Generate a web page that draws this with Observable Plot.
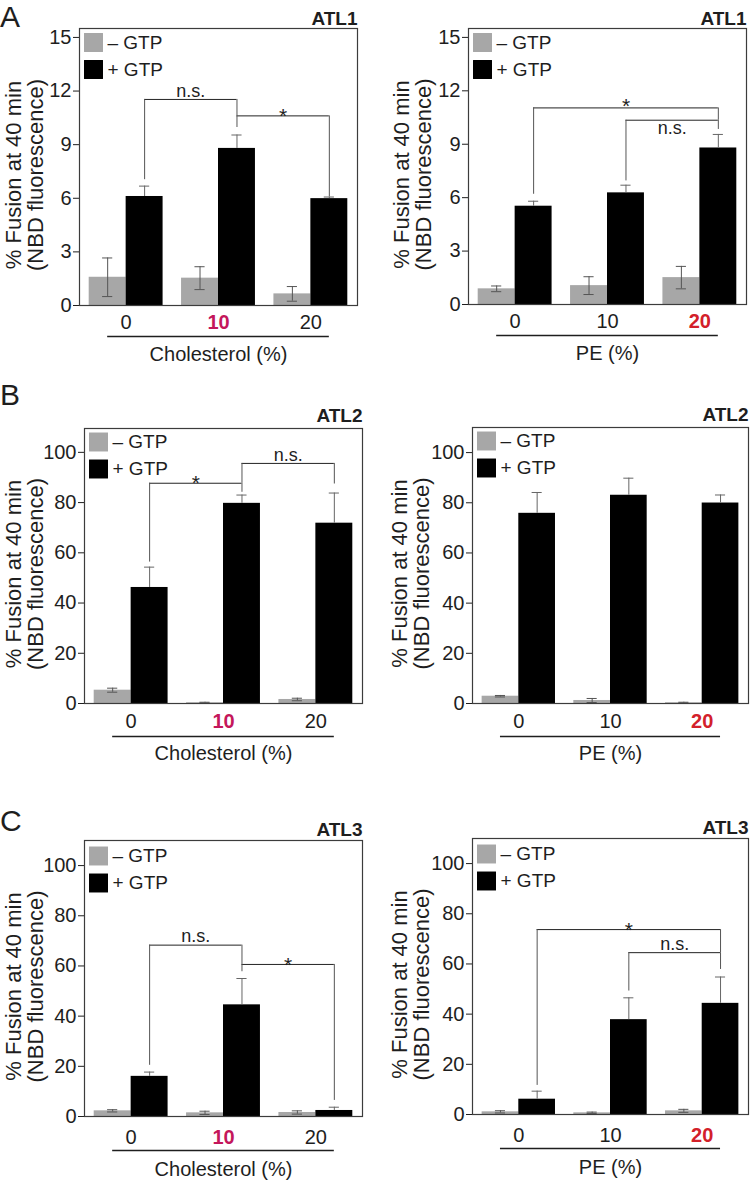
<!DOCTYPE html>
<html>
<head>
<meta charset="utf-8">
<script src="https://cdn.jsdelivr.net/npm/d3@7"></script>
<script src="https://cdn.jsdelivr.net/npm/@observablehq/plot@0.6"></script>
<style>
  body { margin: 0; background: #fff; }
  #root { position: relative; width: 750px; height: 1181px; overflow: hidden; background: #fff;
          font-family: "Liberation Sans", Arial, sans-serif; color: #1e1e1e; }
  .letter { position: absolute; font-size: 30px; line-height: normal; color: #1e1e1e; }
</style>
</head>
<body>
<div id="root"></div>
<script>
// ---------- DATA ----------
const groups = ["0", "10", "20"];
const seriesLabels = ["\u2013 GTP", "+ GTP"];
const yTicksATL1 = [0, 3, 6, 9, 12, 15];
const yTicksATL23 = [0, 20, 40, 60, 80, 100];
const yLabel = "% Fusion at 40 min\n(NBD fluorescence)";

// ATL1 - cholesterol
const atl1CholMinus = [1.58, 1.53, 0.65];
const atl1CholMinusErr = [1.08, 0.64, 0.41];
const atl1CholPlus = [6.10, 8.79, 5.98];
const atl1CholPlusErr = [0.58, 0.75, 0.09];
const atl1CholBrackets = [
  {from: 0, to: 1, y: 11.53, leg1: 7.04, leg2: 10.61, label: "n.s.", ly: 11.64},
  {from: 1, to: 2, y: 10.61, leg1: 9.96, leg2: 6.09, label: "*", ly: 10.2}
];
// ATL1 - PE
const atl1PeMinus = [0.88, 1.06, 1.51];
const atl1PeMinusErr = [0.16, 0.50, 0.63];
const atl1PePlus = [5.52, 6.27, 8.79];
const atl1PePlusErr = [0.28, 0.43, 0.76];
const atl1PeBrackets = [
  {from: 0, to: 2, y: 11.04, leg1: 6.19, leg2: 10.35, label: "*", ly: 10.73},
  {from: 1, to: 2, y: 10.35, leg1: 6.94, leg2: 9.83, label: "n.s.", ly: 9.55}
];
// ATL2 - cholesterol
const atl2CholMinus = [5.3, 0.3, 1.6];
const atl2CholMinusErr = [0.8, 0.2, 0.5];
const atl2CholPlus = [46.2, 79.7, 71.8];
const atl2CholPlusErr = [8.1, 3.3, 12.0];
const atl2CholBrackets = [
  {from: 0, to: 1, y: 87.7, leg1: 56.3, leg2: 84.1, label: "*", ly: 85.2},
  {from: 1, to: 2, y: 95.6, leg1: 87.7, leg2: 87.4, label: "n.s.", ly: 96.7}
];
// ATL2 - PE
const atl2PeMinus = [2.9, 1.2, 0.3];
const atl2PeMinusErr = [0.3, 0.8, 0.2];
const atl2PePlus = [75.8, 83.0, 79.9];
const atl2PePlusErr = [8.3, 6.8, 3.2];
const atl2PeBrackets = [];
// ATL3 - cholesterol
const atl3CholMinus = [2.26, 1.46, 1.6];
const atl3CholMinusErr = [0.45, 0.65, 0.65];
const atl3CholPlus = [16.0, 44.5, 2.4];
const atl3CholPlusErr = [1.7, 10.5, 1.3];
const atl3CholBrackets = [
  {from: 0, to: 1, y: 68.3, leg1: 20.4, leg2: 60.6, label: "n.s.", ly: 69.6},
  {from: 1, to: 2, y: 60.6, leg1: 57.7, leg2: 6.4, label: "*", ly: 57.7}
];
// ATL3 - PE
const atl3PeMinus = [1.06, 0.66, 1.46];
const atl3PeMinusErr = [0.45, 0.3, 0.6];
const atl3PePlus = [6.1, 37.8, 44.3];
const atl3PePlusErr = [3.2, 8.7, 10.5];
const atl3PeBrackets = [
  {from: 0, to: 2, y: 73.7, leg1: 11.6, leg2: 64.5, label: "*", ly: 70.9},
  {from: 1, to: 2, y: 64.5, leg1: 49.2, leg2: 57.8, label: "n.s.", ly: 65.4}
];

// ---------- STYLE ----------
const GRAY = "#a7a7a7";
const BLACK = "#000000";
const CHOL_HL = "#c4175b";
const PE_HL = "#d3202a";
const INK = "#1e1e1e";

const root = document.getElementById("root");

function makePanel(c) {
  const ML = 92, MT = 42, MR = 4, MB = 74;
  const half = 0.4, cap = 0.055;
  const bars = [];
  groups.forEach((g, i) => {
    bars.push({i, s: 0, v: c.minus[i], e: c.minusErr[i]});
    bars.push({i, s: 1, v: c.plus[i], e: c.plusErr[i]});
  });
  const bx1 = d => d.i + (d.s === 0 ? -half : 0);
  const bx2 = d => d.i + (d.s === 0 ? 0 : half);
  const bxc = d => d.i + (d.s === 0 ? -half / 2 : half / 2);
  const blk = g => g + half / 2;
  const grayBars = bars.filter(d => d.s === 0);
  const blackBars = bars.filter(d => d.s === 1);
  const ticks = groups.map((g, i) => ({g, i, hl: g === c.highlight}));

  const marks = [
    Plot.rect(grayBars, {x1: bx1, x2: bx2, y1: 0, y2: "v", fill: GRAY}),
    Plot.rect(blackBars, {x1: bx1, x2: bx2, y1: 0, y2: "v", fill: BLACK}),
    // error bars
    Plot.ruleX(grayBars, {x: bxc, y1: d => d.v - d.e, y2: d => d.v + d.e, stroke: "#555", strokeWidth: 1}),
    Plot.ruleY(grayBars, {x1: d => bxc(d) - cap, x2: d => bxc(d) + cap, y: d => d.v + d.e, stroke: "#555", strokeWidth: 1}),
    Plot.ruleY(grayBars, {x1: d => bxc(d) - cap, x2: d => bxc(d) + cap, y: d => d.v - d.e, stroke: "#555", strokeWidth: 1}),
    Plot.ruleX(blackBars, {x: bxc, y1: "v", y2: d => d.v + d.e, stroke: "#666", strokeWidth: 1}),
    Plot.ruleY(blackBars, {x1: d => bxc(d) - cap, x2: d => bxc(d) + cap, y: d => d.v + d.e, stroke: "#666", strokeWidth: 1}),
    // significance brackets
    Plot.ruleY(c.brackets, {x1: d => blk(d.from), x2: d => blk(d.to), y: "y", stroke: "#222", strokeWidth: 1}),
    Plot.ruleX(c.brackets, {x: d => blk(d.from), y1: "leg1", y2: "y", stroke: "#555", strokeWidth: 1}),
    Plot.ruleX(c.brackets, {x: d => blk(d.to), y1: "leg2", y2: "y", stroke: "#555", strokeWidth: 1}),
    Plot.text(c.brackets.filter(d => d.label !== "*"), {x: d => (blk(d.from) + blk(d.to)) / 2, y: "ly", text: "label",
      lineAnchor: "bottom", fontSize: 18, fill: INK}),
    Plot.text(c.brackets.filter(d => d.label === "*"), {x: d => (blk(d.from) + blk(d.to)) / 2, y: "ly", text: "label",
      lineAnchor: "bottom", fontSize: 21, fill: INK}),
    Plot.frame({stroke: "#3c3c3c", strokeWidth: 1.2}),
    // x category labels
    Plot.text(ticks.filter(d => !d.hl), {x: "i", text: "g", frameAnchor: "bottom", dy: c.tickDy,
      textAnchor: "middle", lineAnchor: "middle", fontSize: 20, fill: INK}),
    Plot.text(ticks.filter(d => d.hl), {x: "i", text: "g", frameAnchor: "bottom", dy: c.tickDy,
      textAnchor: "middle", lineAnchor: "middle", fontSize: 20, fontWeight: "bold", fill: c.hlColor}),
    // group underline and axis label
    Plot.ruleY([0], {x1: blk(0) - half, x2: blk(groups.length - 1), dy: c.lineDy, stroke: INK, strokeWidth: 1.3}),
    Plot.text([c.xLabel], {x: (groups.length - 1) / 2, frameAnchor: "bottom", dy: c.labelDy,
      textAnchor: "middle", lineAnchor: "middle", fontSize: 20, fill: INK}),
    // y label
    Plot.text([yLabel], {frameAnchor: "left", rotate: -90, dx: c.ylabelDx, dy: 8, textAnchor: "middle",
      lineAnchor: "middle", fontSize: 22, lineHeight: 1.0, fill: INK}),
    // title
    Plot.text([c.title], {frameAnchor: "top-right", textAnchor: "end", lineAnchor: "bottom", dy: c.titleDy,
      fontSize: 19, fontWeight: "bold", fill: INK}),
  ];
  // legend
  [GRAY, BLACK].forEach((col, k) => {
    marks.push(Plot.dot([seriesLabels[k]], {frameAnchor: "top-left", dx: 14, dy: c.legendDy + 27 * k,
      symbol: "square", r: 10.7, fill: col, stroke: null}));
    marks.push(Plot.text([seriesLabels[k]], {frameAnchor: "top-left", dx: 28, dy: c.legendDy + 27 * k,
      text: d => d, textAnchor: "start", lineAnchor: "middle", fontSize: 19, fill: INK}));
  });

  const svg = Plot.plot({
    width: ML + c.w + MR,
    height: MT + c.h + MB,
    marginLeft: ML, marginTop: MT, marginRight: MR, marginBottom: MB,
    style: {fontFamily: "'Liberation Sans', Arial, sans-serif", fontSize: "20px", color: INK, background: "transparent", overflow: "visible"},
    x: {domain: [-0.505, 2.505], axis: null},
    y: {domain: [0, c.yMax], ticks: c.yTicks, tickSize: 6, tickPadding: 2, label: null, tickFormat: d => String(d)},
    marks
  });
  svg.style.position = "absolute";
  svg.style.left = (c.left - ML) + "px";
  svg.style.top = (c.top - MT) + "px";
  svg.style.maxWidth = "none";
  root.appendChild(svg);
}

const rowA = {titleDy: -4, tickDy: 17, lineDy: 31, labelDy: 49, legendDy: 14};
const rowB = {titleDy: -7, tickDy: 18, lineDy: 33, labelDy: 50, legendDy: 13.5};
const rowC = {titleDy: -5, tickDy: 21, lineDy: 34, labelDy: 53, legendDy: 15.5};

makePanel({...rowA, left: 79, top: 28, w: 278, h: 277, yMax: 15.5, yTicks: yTicksATL1, ylabelDx: -55,
  minus: atl1CholMinus, minusErr: atl1CholMinusErr, plus: atl1CholPlus, plusErr: atl1CholPlusErr,
  brackets: atl1CholBrackets, xLabel: "Cholesterol (%)", highlight: "10", hlColor: CHOL_HL, title: "ATL1"});
makePanel({...rowA, left: 468, top: 28, w: 278, h: 276, yMax: 15.5, yTicks: yTicksATL1, ylabelDx: -56,
  minus: atl1PeMinus, minusErr: atl1PeMinusErr, plus: atl1PePlus, plusErr: atl1PePlusErr,
  brackets: atl1PeBrackets, xLabel: "PE (%)", highlight: "20", hlColor: PE_HL, title: "ATL1"});
makePanel({...rowB, left: 84, top: 428, w: 278, h: 275, yMax: 109.5, yTicks: yTicksATL23, ylabelDx: -60,
  minus: atl2CholMinus, minusErr: atl2CholMinusErr, plus: atl2CholPlus, plusErr: atl2CholPlusErr,
  brackets: atl2CholBrackets, xLabel: "Cholesterol (%)", highlight: "10", hlColor: CHOL_HL, title: "ATL2"});
makePanel({...rowB, left: 472, top: 427, w: 276, h: 276, yMax: 110, yTicks: yTicksATL23, ylabelDx: -62,
  minus: atl2PeMinus, minusErr: atl2PeMinusErr, plus: atl2PePlus, plusErr: atl2PePlusErr,
  brackets: atl2PeBrackets, xLabel: "PE (%)", highlight: "20", hlColor: PE_HL, title: "ATL2"});
makePanel({...rowC, left: 84, top: 840, w: 278, h: 276, yMax: 110, yTicks: yTicksATL23, ylabelDx: -60,
  minus: atl3CholMinus, minusErr: atl3CholMinusErr, plus: atl3CholPlus, plusErr: atl3CholPlusErr,
  brackets: atl3CholBrackets, xLabel: "Cholesterol (%)", highlight: "10", hlColor: CHOL_HL, title: "ATL3"});
makePanel({...rowC, left: 472, top: 838, w: 276, h: 276, yMax: 110, yTicks: yTicksATL23, ylabelDx: -62,
  minus: atl3PeMinus, minusErr: atl3PeMinusErr, plus: atl3PePlus, plusErr: atl3PePlusErr,
  brackets: atl3PeBrackets, xLabel: "PE (%)", highlight: "20", hlColor: PE_HL, title: "ATL3"});

// panel letters
[["A", 0, 0], ["B", 0, 378], ["C", 0, 804]].forEach(([t, x, y]) => {
  const d = document.createElement("div");
  d.className = "letter";
  d.textContent = t;
  d.style.left = x + "px";
  d.style.top = y + "px";
  root.appendChild(d);
});
</script>
</body>
</html>
